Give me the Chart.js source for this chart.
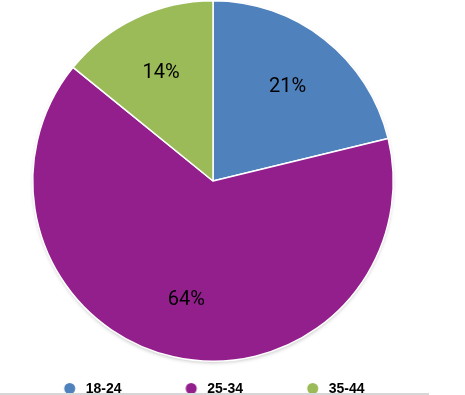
<!DOCTYPE html>
<html>
<head>
<meta charset="utf-8">
<script src="https://cdn.jsdelivr.net/npm/chart.js@4"></script>
<style>
  body { margin: 0; background: #fff; overflow: hidden; }
  #box { position: relative; width: 426px; height: 406px; }
  #linea { position: absolute; left: 0; top: 393px; width: 429px; height: 2px; background: #d6d6d6; }
</style>
</head>
<body>
<div id="box"><canvas id="grafico"></canvas></div>
<div id="linea"></div>
<script>
// Datos del gráfico
const categorias = ['18-24', '25-34', '35-44'];
const porcentajes = [21, 64, 14];
const colores = ['#4F81BD', '#931F8D', '#9BBB59'];

// Ajustes de la leyenda (separación entre elementos como en la imagen)
const fuenteLeyenda = { family: '"Liberation Sans", Arial, sans-serif', size: 14, weight: 'bold' };
const pasoLeyenda = 121.5;
const paddingLeyenda = 20;
const mitadFuente = fuenteLeyenda.size / 2;

const medidor = document.createElement('canvas').getContext('2d');
medidor.font = `bold ${fuenteLeyenda.size}px ${fuenteLeyenda.family}`;
const anchoTexto = medidor.measureText(categorias[0]).width;
const anchoCaja = pasoLeyenda - paddingLeyenda - mitadFuente - anchoTexto;
const margenIzq = Math.max(0, 84 - paddingLeyenda - anchoCaja - mitadFuente);
const desplazamiento = anchoCaja / 2 - 9;

// Punto de color para cada elemento de la leyenda
function crearPunto(color) {
  const c = document.createElement('canvas');
  c.width = Math.ceil(2 * (Math.abs(desplazamiento) + 7));
  c.height = 14;
  const g = c.getContext('2d');
  g.fillStyle = color;
  g.beginPath();
  g.arc(c.width / 2 + desplazamiento, 6.5, 5.5, 0, Math.PI * 2);
  g.fill();
  return c;
}

// Sombra y etiquetas de porcentaje
const etiquetas = {
  id: 'etiquetas',
  beforeDatasetsDraw(chart) {
    const arco = chart.getDatasetMeta(0).data[0];
    if (!arco) return;
    const { x, y, outerRadius } = arco.getProps(['x', 'y', 'outerRadius'], true);
    const ctx = chart.ctx;
    ctx.save();
    ctx.shadowColor = 'rgba(0,0,0,0.3)';
    ctx.shadowBlur = 4;
    ctx.shadowOffsetY = 2;
    ctx.fillStyle = '#fff';
    ctx.beginPath();
    ctx.arc(x, y, outerRadius - 1, 0, Math.PI * 2);
    ctx.fill();
    ctx.restore();
  },
  afterDatasetsDraw(chart) {
    const ctx = chart.ctx;
    ctx.save();
    ctx.font = '20px Roboto, "DejaVu Sans Condensed", sans-serif';
    ctx.fillStyle = '#000';
    ctx.textAlign = 'center';
    ctx.textBaseline = 'middle';
    chart.getDatasetMeta(0).data.forEach((arco, i) => {
      const { x, y, startAngle, endAngle, outerRadius } =
        arco.getProps(['x', 'y', 'startAngle', 'endAngle', 'outerRadius'], true);
      const medio = (startAngle + endAngle) / 2;
      const r = outerRadius * 0.67;
      ctx.fillText(`${porcentajes[i]}%`, x + Math.cos(medio) * r, y + Math.sin(medio) * r + 1);
    });
    ctx.restore();
  }
};

const generarBase = Chart.overrides.doughnut.plugins.legend.labels.generateLabels;

new Chart(document.getElementById('grafico'), {
  type: 'pie',
  data: {
    labels: categorias,
    datasets: [{
      data: porcentajes,
      backgroundColor: colores,
      borderColor: '#ffffff',
      borderWidth: 1.5
    }]
  },
  options: {
    responsive: true,
    maintainAspectRatio: false,
    animation: false,
    events: [],
    layout: { padding: { left: margenIzq, right: margenIzq } },
    plugins: {
      tooltip: { enabled: false },
      legend: {
        position: 'bottom',
        align: 'start',
        labels: {
          usePointStyle: true,
          pointStyleWidth: anchoCaja,
          padding: paddingLeyenda,
          color: '#000',
          font: fuenteLeyenda,
          generateLabels: chart => generarBase(chart).map(item => ({
            ...item,
            pointStyle: crearPunto(item.fillStyle)
          }))
        }
      }
    }
  },
  plugins: [etiquetas]
});
</script>
</body>
</html>
